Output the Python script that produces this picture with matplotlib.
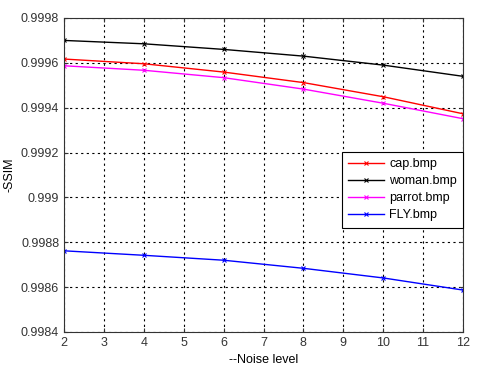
import matplotlib
matplotlib.use("Agg")
import matplotlib.pyplot as plt
from matplotlib.ticker import FixedLocator, FixedFormatter

noise = [2, 4, 6, 8, 10, 12]
cap = [0.999617, 0.999596, 0.999559, 0.999512, 0.999449, 0.999373]
woman = [0.999700, 0.999685, 0.999660, 0.999630, 0.999590, 0.999540]
parrot = [0.999587, 0.999567, 0.999534, 0.999483, 0.999420, 0.999351]
fly = [0.998762, 0.998742, 0.998720, 0.998684, 0.998641, 0.998587]
labels = ["cap.bmp", "woman.bmp", "parrot.bmp", "FLY.bmp"]
yticks = [0.9984, 0.9986, 0.9988, 0.999, 0.9992, 0.9994, 0.9996, 0.9998]
ytick_labels = ["0.9984", "0.9986", "0.9988", "0.999", "0.9992", "0.9994", "0.9996", "0.9998"]

plt.rcParams['font.family'] = ['Liberation Sans', 'DejaVu Sans']
fig = plt.figure(figsize=(4.95, 3.69), dpi=100)
ax = fig.add_axes([64/495, 1-332/369, (463-64)/495, (332-18)/369])

for ys, c, lab in zip([cap, woman, parrot, fly], ["red", "black", "magenta", "blue"], labels):
    ax.plot(noise, ys, color=c, marker="x", markersize=3, markeredgewidth=0.8,
            linewidth=1.0, label=lab)

ax.set_xlim(2, 12)
ax.set_ylim(0.9984, 0.9998)
ax.set_xticks(range(2, 13))
ax.yaxis.set_major_locator(FixedLocator(yticks))
ax.yaxis.set_major_formatter(FixedFormatter(ytick_labels))
ax.grid(True, color="black", linestyle=(0, (2, 3)), linewidth=0.8)
ax.tick_params(direction="in", labelsize=9, length=3, top=True, right=True, colors="#333333")
for s in ax.spines.values():
    s.set_color("#333333")
ax.set_xlabel("--Noise level", fontsize=9, labelpad=4)
ax.set_ylabel("-SSIM", fontsize=9, labelpad=4)
leg = ax.legend(loc="upper right", bbox_to_anchor=(1.0, 1 - (152-18)/314), fontsize=9,
                fancybox=False, edgecolor="black", framealpha=1, handlelength=2.9,
                borderpad=0.5, labelspacing=0.4, handletextpad=0.4, borderaxespad=0)
leg.get_frame().set_linewidth(0.8)
fig.savefig("out.png", dpi=100)
